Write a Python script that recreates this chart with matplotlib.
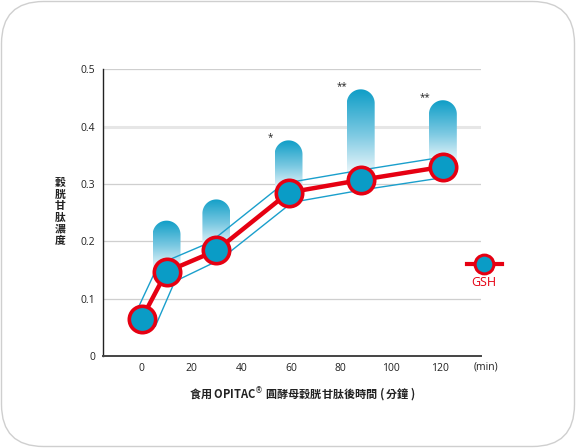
import numpy as np
import matplotlib
matplotlib.use('Agg')
import matplotlib.pyplot as plt
from matplotlib.path import Path
from matplotlib.patches import FancyBboxPatch
from matplotlib.colors import LinearSegmentedColormap
from matplotlib.transforms import IdentityTransform, blended_transform_factory

plt.rcParams['font.family'] = ['Open Sans', 'Noto Sans CJK TC', 'DejaVu Sans']

# data
times = [0, 10, 30, 59, 88, 121]
gsh_mean = [0.065, 0.147, 0.184, 0.285, 0.307, 0.330]
# thin band lines (their corners sit a little off the sample times)
upper_times = [-2.7, 6.8, 27.4, 57.1, 87.9, 121.2]
upper_vals = [0.072, 0.160, 0.198, 0.301, 0.324, 0.347]
lower_times = [5.5, 13.3, 31.5, 60.5, 89.2, 122.5]
lower_vals = [0.052, 0.130, 0.168, 0.268, 0.290, 0.312]
bar_times = [10, 30, 59, 88, 121]
bar_base = [0.147, 0.184, 0.285, 0.307, 0.330]
bar_top = [0.236, 0.273, 0.376, 0.465, 0.446]
bar_marks = ['', '', '*', '**', '**']
xticks = [0, 20, 40, 60, 80, 100, 120]
yticks = [0, 0.1, 0.2, 0.3, 0.4, 0.5]
ytick_labels = ['0', '0.1', '0.2', '0.3', '0.4', '0.5']

RED = '#e60012'
BLUE = '#0a9cc6'
LINE_BLUE = '#1a9fcc'

fig = plt.figure(figsize=(5.76, 4.48), dpi=100)
ax = fig.add_axes([0.1794, 0.2054, 0.6552, 0.64])

xmin, xmax = -15.4, 136.2
ax.set_xlim(xmin, xmax)
ax.set_ylim(0, 0.5)

# grid
for y in yticks[1:]:
    if y == 0.4:
        ax.axhline(y, color='#e6e6e6', lw=2.2, zorder=0)
    else:
        ax.axhline(y, color='#cfcfcf', lw=0.9, zorder=0)

# gradient bars with round tops
hw = 5.6
ax_w = 0.6552 * 576
ax_h = 0.64 * 448
ry = hw * (0.5 / ax_h) / ((xmax - xmin) / ax_w)
cmap = LinearSegmentedColormap.from_list('fade', ['#ffffff', '#7cc9e2', '#0f9ec7'])
grad = np.linspace(0, 1, 200).reshape(-1, 1)
for t, top, bottom, mk in zip(bar_times, bar_top, bar_base, bar_marks):
    th = np.linspace(np.pi, 0, 40)
    verts = [(t - hw, bottom), (t - hw, top - ry)]
    verts += [(t + hw * np.cos(a), top - ry + ry * np.sin(a)) for a in th]
    verts += [(t + hw, bottom), (t - hw, bottom)]
    clip = Path(verts, closed=True)
    im = ax.imshow(grad, extent=[t - hw, t + hw, bottom, top], origin='lower',
                   cmap=cmap, aspect='auto', zorder=1, interpolation='bilinear')
    im.set_clip_path(clip, transform=ax.transData)
    if mk:
        ax.text(t - 7.4, top + 0.004, mk, fontsize=7, color='#222222',
                ha='center', va='center', zorder=5)

ax.set_xlim(xmin, xmax)
ax.set_ylim(0, 0.5)

# band and mean line
ax.plot(upper_times, upper_vals, color=LINE_BLUE, lw=1.0, zorder=2)
ax.plot(lower_times, lower_vals, color=LINE_BLUE, lw=1.0, zorder=2)
ax.plot(times, gsh_mean, color=RED, lw=3.2, marker='o', markersize=19,
        markerfacecolor=BLUE, markeredgecolor=RED, markeredgewidth=2.6, zorder=3)

# axes styling
for s in ['top', 'right']:
    ax.spines[s].set_visible(False)
ax.spines['left'].set_color('#222222')
ax.spines['left'].set_linewidth(1.0)
ax.spines['bottom'].set_color('#444444')
ax.spines['bottom'].set_linewidth(1.4)
ax.set_xticks(xticks)
ax.set_xticklabels([str(v) for v in xticks])
ax.set_yticks(yticks)
ax.set_yticklabels(ytick_labels)
ax.tick_params(length=0, labelsize=7.5, colors='#222222')
ax.tick_params(axis='x', pad=5)
ax.tick_params(axis='y', pad=6)

trans = blended_transform_factory(ax.transData, ax.transAxes)
ax.text(138.3, -0.038, '(min)', transform=trans, fontsize=7.5, color='#222222',
        ha='center', va='center')

ax.text(0.5265, -0.1325, '食用 OPITAC$^{®}$ 圓酵母穀胱甘肽後時間 ( 分鐘 )', transform=ax.transAxes,
        fontsize=8, fontweight='bold', color='#222222', ha='center', va='center',
        family=['Noto Sans CJK TC', 'DejaVu Sans'])
ax.text(-0.1147, 0.502, '\n'.join('穀胱甘肽濃度'), transform=ax.transAxes,
        fontsize=7.8, fontweight='bold', color='#222222', ha='center', va='center',
        linespacing=1.2, family=['Noto Sans CJK TC', 'DejaVu Sans'])

# legend
ax.plot([0.964, 1.056], [0.321, 0.321], transform=ax.transAxes, clip_on=False,
        color=RED, lw=3.0, zorder=4)
ax.plot([1.009], [0.321], transform=ax.transAxes, clip_on=False, marker='o',
        markersize=13.5, markerfacecolor=BLUE, markeredgecolor=RED,
        markeredgewidth=2.2, zorder=5)
ax.text(1.009, 0.258, 'GSH', transform=ax.transAxes, fontsize=9, color=RED,
        ha='center', va='center')

# card border
card = FancyBboxPatch((1.5, 1.5), 573, 445, boxstyle='round,pad=0,rounding_size=42',
                      transform=IdentityTransform(), facecolor='none',
                      edgecolor='#cfcfcf', lw=1.0)
fig.add_artist(card)

fig.savefig('out.png', dpi=100)
